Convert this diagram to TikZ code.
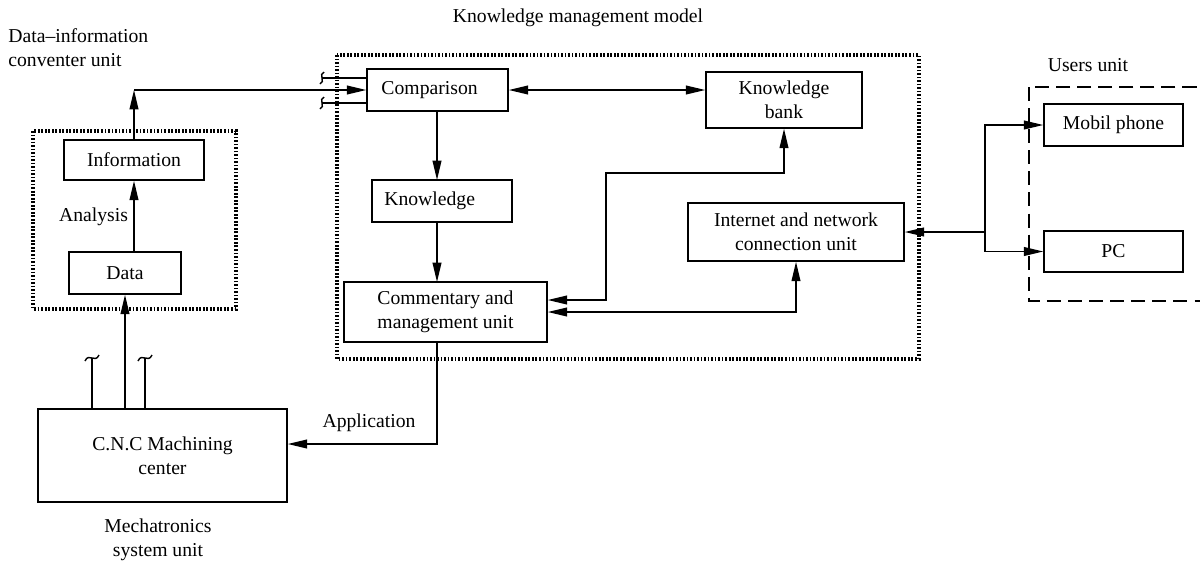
\documentclass[tikz,border=0pt]{standalone}
\usepackage{fontspec}
\setmainfont{Liberation Serif}
\usetikzlibrary{arrows.meta,calc}
\begin{document}
\begin{tikzpicture}[x=0.02cm,y=-0.02cm,
  font=\fontsize{11.2}{13.6}\selectfont,
  box/.style={draw,line width=0.9pt,inner sep=0pt,align=center},
  arr/.style={line width=0.8pt,-{Triangle[length=11pt,width=5pt]}},
  darr/.style={line width=0.8pt,{Triangle[length=11pt,width=5pt]}-{Triangle[length=11pt,width=5pt]}},
  wire/.style={line width=0.8pt},
  grp/.style={line width=2pt,dash pattern=on 1pt off 1pt},
  dgrp/.style={line width=0.9pt,dash pattern=on 8pt off 4pt},
  lbl/.style={inner sep=0pt,align=center}]
\useasboundingbox (0,0) rectangle (1200,562);
\clip (0,0) rectangle (1200,562);

% group frames
\draw[grp] (33,131) rectangle (236,309);
\draw[grp] (337,55) rectangle (919,359);
\draw[dgrp] (1029,87) rectangle (1215,301);

% nodes
\node[box,minimum width=2.8cm,minimum height=0.8cm] (info) at (134,160) {Information};
\node[box,minimum width=2.24cm,minimum height=0.84cm] (data) at (125,273) {Data};
\node[box,minimum width=2.82cm,minimum height=0.84cm] (cmp) at (437.5,90) {Comparison\hspace{9pt}};
\node[box,minimum width=2.8cm,minimum height=0.84cm] (kn) at (442,201) {Knowledge\hspace{14pt}};
\node[box,minimum width=4.06cm,minimum height=1.2cm] (com) at (445.5,312) {Commentary and\\management unit};
\node[box,minimum width=3.12cm,minimum height=1.12cm] (kb) at (784,100) {Knowledge\\bank};
\node[box,minimum width=4.32cm,minimum height=1.16cm] (inet) at (796,232) {Internet and network\\connection unit};
\node[box,minimum width=2.78cm,minimum height=0.84cm] (mob) at (1113.5,125) {Mobil phone};
\node[box,minimum width=2.78cm,minimum height=0.82cm] (pc) at (1113.5,251.5) {PC};
\node[box,minimum width=4.98cm,minimum height=1.86cm] (cnc) at (162.5,455.5) {C.N.C Machining\\center};

% labels
\node[lbl] (tkm) at (578,18) {Knowledge management model};
\node[lbl,align=left,anchor=west] (tdi) at (8,48) {Data–information\\conventer unit};
\node[lbl] (tus) at (1088,65) {Users unit};
\node[lbl] (tan) at (93.5,217) {Analysis};
\node[lbl] (tap) at (369,423) {Application};
\node[lbl] (tme) at (158,540) {Mechatronics\\system unit};

% coordinates
\coordinate (c1) at (134,90);
\coordinate (c2) at (606,300);
\coordinate (c3) at (606,173);
\coordinate (c4) at (796,312);
\coordinate (br) at (985,232);
\coordinate (ap) at (437,444);
\coordinate (sq1) at (322,78);
\coordinate (sq2) at (322,103);
\coordinate (tl1) at (92,358);
\coordinate (tl2) at (145,358);

% connectors
\draw[arr] (data.north -| info.south) -- (info.south);
\draw[arr] (info.north) -- (c1);
\draw[arr] (c1) -- (c1 -| cmp.west);
\draw[arr] (cnc.north -| data.south) -- (data.south);
\draw[darr] (cmp.east) -- (cmp.east -| kb.west);
\draw[arr] (437,111) -- (437,180);
\draw[arr] (437,222) -- (437,282);
\draw[darr] (c2 -| com.east) -- (c2) -- (c3) -- (c3 -| kb.south) -- (kb.south);
\draw[darr] (c4 -| com.east) -- (c4) -- (c4 |- inet.south);
\draw[arr] (br) -- (br -| inet.east);
\draw[arr] (br) |- (mob.west);
\draw[arr] (br) |- (pc.west);
\draw[arr] (437,342) -- (ap) -- (ap -| cnc.east);

% broken-off wires
\draw[wire] (sq1 -| cmp.west) -- (sq1);
\draw[wire] (sq2 -| cmp.west) -- (sq2);
\draw[wire] (324,72) .. controls (318,74) and (326,82) .. (320,84);
\draw[wire] (324,97) .. controls (318,99) and (326,107) .. (320,109);
\draw[wire] (tl1 |- cnc.north) -- (tl1);
\draw[wire] (tl2 |- cnc.north) -- (tl2);
\draw[wire] (85,361) .. controls (89,352) and (95,364) .. (99,355);
\draw[wire] (138,361) .. controls (142,352) and (148,364) .. (152,355);
\end{tikzpicture}
\end{document}
